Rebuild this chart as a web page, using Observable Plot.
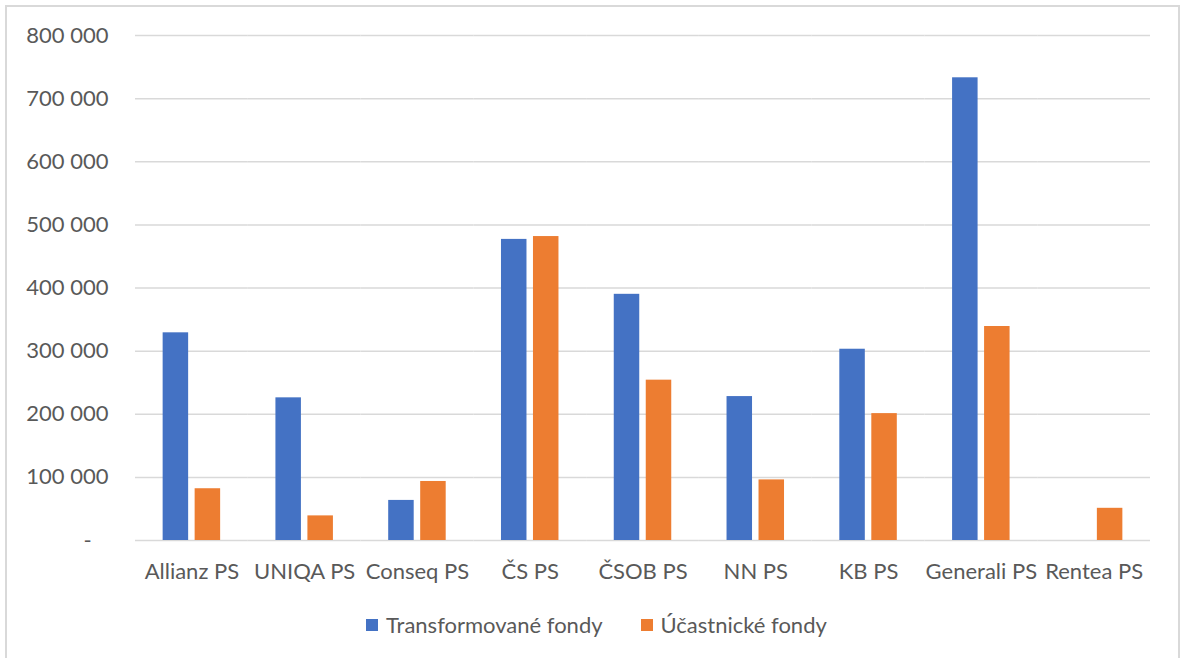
<!DOCTYPE html>
<html>
<head>
<meta charset="utf-8">
<script src="https://cdn.jsdelivr.net/npm/d3@7"></script>
<script src="https://cdn.jsdelivr.net/npm/@observablehq/plot@0.6"></script>
<style>
  html, body { margin: 0; padding: 0; background: #fff; width: 1180px; height: 658px; overflow: hidden; }
  #frame { position: absolute; left: 5px; top: 5px; width: 1175px; height: 700px; box-sizing: border-box;
           border: 2px solid #d9d9d9; border-bottom: none; pointer-events: none; }
  #chart { position: absolute; left: 0; top: 0; }
  #legend { position: absolute; left: 366px; top: 611px; display: flex; align-items: center;
            font-family: Lato, "Open Sans", sans-serif; font-size: 22px; color: #595959; }
  .item { display: flex; align-items: center; }
  .sw { width: 12px; height: 12px; margin-right: 8px; }
</style>
</head>
<body>
<div id="chart"></div>
<div id="legend"></div>
<div id="frame"></div>
<script>
const categories = ["Allianz PS","UNIQA PS","Conseq PS","ČS PS","ČSOB PS","NN PS","KB PS","Generali PS","Rentea PS"];
const seriesNames = ["Transformované fondy","Účastnické fondy"];
const transformovane = [329000, 226000, 63500, 477000, 390000, 228000, 303000, 733000, null];
const ucastnicke = [82000, 39000, 93500, 481500, 254000, 96000, 201000, 339000, 51000];
const colors = ["#4472C4", "#ED7D31"];

const data = categories.flatMap((c, i) => [
  {cat: c, series: seriesNames[0], value: transformovane[i]},
  {cat: c, series: seriesNames[1], value: ucastnicke[i]}
]).filter(d => d.value != null);

const fmt = d => d === 0 ? "-\u00a0\u00a0\u00a0" : d3.format(",")(d).replace(/,/g, " ");

const chart = Plot.plot({
  width: 1180,
  height: 600,
  marginLeft: 135,
  marginRight: 30,
  marginTop: 35,
  marginBottom: 60,
  style: {fontFamily: "Lato, 'Open Sans', sans-serif", fontSize: "22px", color: "#595959", background: "transparent", overflow: "visible"},
  fx: {domain: categories, padding: 0, round: false, label: null, axis: "bottom", tickSize: 0, tickPadding: 23},
  x: {domain: seriesNames, axis: null, round: false, paddingInner: 0.203, paddingOuter: 0.864},
  y: {domain: [0, 800000], ticks: 8, tickFormat: fmt, tickSize: 0, tickPadding: 27, label: null},
  color: {domain: seriesNames, range: colors},
  marks: [
    Plot.gridY({ticks: 8, stroke: "#d9d9d9", strokeOpacity: 1, strokeWidth: 1.5}),
    Plot.barY(data, {fx: "cat", x: "series", y: "value", fill: "series"})
  ]
});
document.getElementById("chart").appendChild(chart);

const legend = document.getElementById("legend");
seriesNames.forEach((s, i) => {
  const item = document.createElement("div");
  item.className = "item";
  if (i > 0) item.style.marginLeft = "38px";
  const sw = document.createElement("div");
  sw.className = "sw";
  sw.style.background = colors[i];
  const t = document.createElement("span");
  t.textContent = s;
  item.appendChild(sw);
  item.appendChild(t);
  legend.appendChild(item);
});
</script>
</body>
</html>
